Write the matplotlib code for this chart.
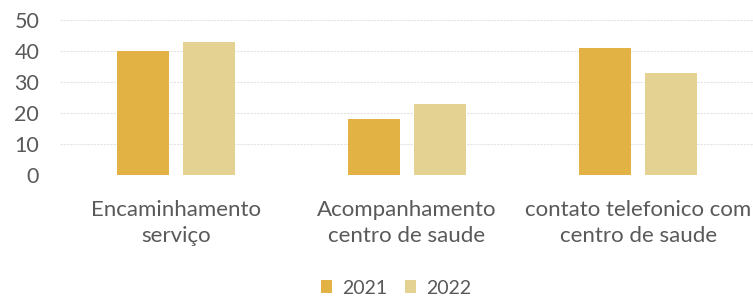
import matplotlib
matplotlib.use("Agg")
import matplotlib.pyplot as plt
import numpy as np

categories = ["Encaminhamento\nserviço", "Acompanhamento\ncentro de saude", "contato telefonico com\ncentro de saude"]
series_names = ["2021", "2022"]
values_2021 = [40, 18, 41]
values_2022 = [43, 23, 33]
yticks = [0, 10, 20, 30, 40, 50]

plt.rcParams['font.family'] = ['Lato', 'DejaVu Sans']

fig = plt.figure(figsize=(7.53, 3.0), dpi=100)
ax = fig.add_axes([60/753, 125/300, 694/753, 155/300])

x = np.arange(len(categories))
w = 0.225
off = 0.143
c1 = "#E2B245"
c2 = "#E4D292"
ax.bar(x - off, values_2021, w, color=c1, label=series_names[0], zorder=3)
ax.bar(x + off, values_2022, w, color=c2, label=series_names[1], zorder=3)

ax.set_xlim(-0.5, 2.5)
ax.set_ylim(0, 50)
ax.set_yticks(yticks)
ax.set_yticklabels([str(v) for v in yticks], fontsize=15.5, color="#595959")
ax.set_xticks(x)
ax.set_xticklabels(categories, fontsize=16, color="#595959", linespacing=1.35)
ax.tick_params(axis='both', length=0)
ax.tick_params(axis='y', pad=15)
ax.tick_params(axis='x', pad=18)
for s in ax.spines.values():
    s.set_visible(False)
ax.grid(axis='y', color="#E4E4E4", linewidth=0.8, linestyle=(0, (2, 1)), zorder=0)

leg = fig.legend(loc='center', bbox_to_anchor=(396/753, 1 - 288/300), ncol=2, frameon=False,
                 fontsize=14, handlelength=0.6, handleheight=0.6, columnspacing=0.9, handletextpad=0.5)
for t in leg.get_texts():
    t.set_color("#595959")

fig.savefig("out.png", dpi=100)
